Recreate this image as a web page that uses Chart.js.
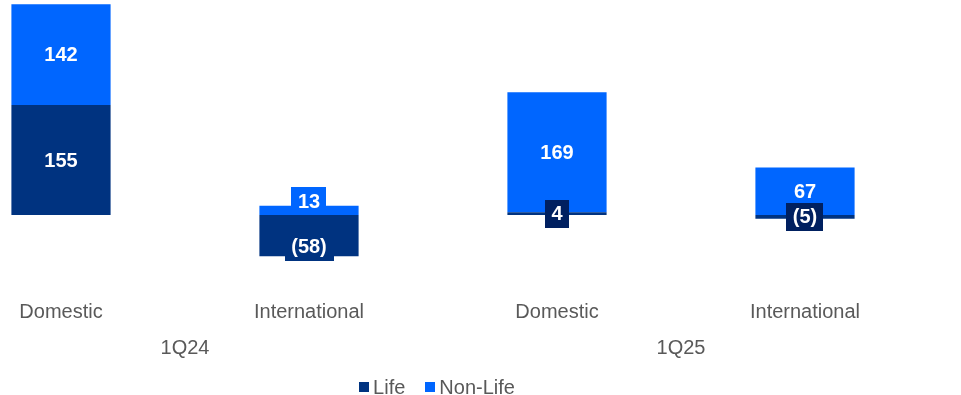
<!DOCTYPE html>
<html>
<head>
<meta charset="utf-8">
<script src="https://cdn.jsdelivr.net/npm/chart.js@4/dist/chart.umd.min.js"></script>
<style>
  html, body { margin: 0; padding: 0; background: #fff; overflow: hidden; width: 961px; height: 395px; }
  #wrap { position: absolute; left: -63px; top: 0; width: 1024px; height: 395px; }
</style>
</head>
<body>
<div id="wrap"><canvas id="c"></canvas></div>
<script>
// Segment values by business line
const categories = ['Domestic', 'International', 'Domestic', 'International'];
const periods = ['1Q24', '1Q25'];
const seriesNames = ['Life', 'Non-Life'];
const lifeValues = [155, -58, 4, -5];
const nonLifeValues = [142, 13, 169, 67];

const FONT = '"Liberation Sans", Arial, sans-serif';
const TEXT_GREY = '#595959';
const LIFE_BLUE = '#003380';
const NONLIFE_BLUE = '#0066FF';

// White value labels on a coloured tag, centred on each stacked segment
const segmentLabels = {
  id: 'segmentLabels',
  afterDatasetsDraw(chart, args, opts) {
    const ctx = chart.ctx;
    ctx.save();
    ctx.font = 'bold 20px ' + FONT;
    ctx.textAlign = 'center';
    ctx.textBaseline = 'middle';
    const order = chart.data.datasets.map((d, i) => i).reverse();
    order.forEach(di => {
      const ds = chart.data.datasets[di];
      const meta = chart.getDatasetMeta(di);
      meta.data.forEach((bar, i) => {
        const v = ds.data[i];
        const text = v < 0 ? '(' + Math.abs(v) + ')' : String(v);
        const segH = Math.abs(bar.base - bar.y);
        const shift = (opts.shift[di] && opts.shift[di][i]) || 0;
        const cy = (bar.y + bar.base) / 2 + shift;
        const w = ctx.measureText(text).width + 13;
        const h = 28;
        ctx.fillStyle = segH < h ? opts.smallTag[di] : ds.backgroundColor;
        ctx.fillRect(Math.round(bar.x - w / 2), Math.round(cy - h / 2), Math.round(w), h);
        ctx.fillStyle = '#ffffff';
        ctx.fillText(text, bar.x, cy + 1);
      });
    });
    ctx.restore();
  }
};

// Legend row with small square markers
const squareLegend = {
  id: 'squareLegend',
  afterDraw(chart, args, opts) {
    const ctx = chart.ctx;
    ctx.save();
    ctx.font = opts.size + 'px ' + FONT;
    ctx.textBaseline = 'middle';
    ctx.textAlign = 'left';
    const items = chart.data.datasets.map(d => ({ label: d.label, color: d.backgroundColor, w: ctx.measureText(d.label).width }));
    const box = 10, gap = 4, spacing = 20;
    let total = 0;
    items.forEach((it, i) => { total += box + gap + it.w + (i ? spacing : 0); });
    let x = opts.centerX - total / 2;
    const y = opts.y;
    items.forEach((it, i) => {
      if (i) x += spacing;
      ctx.fillStyle = it.color;
      ctx.fillRect(Math.round(x), Math.round(y - box / 2), box, box);
      x += box + gap;
      ctx.fillStyle = TEXT_GREY;
      ctx.fillText(it.label, x, y + 1);
      x += it.w;
    });
    ctx.restore();
  }
};

const tickFont = { family: FONT, size: 20 };

new Chart(document.getElementById('c'), {
  type: 'bar',
  data: {
    labels: categories,
    datasets: [
      { label: seriesNames[0], data: lifeValues, backgroundColor: LIFE_BLUE, stack: 's' },
      { label: seriesNames[1], data: nonLifeValues, backgroundColor: NONLIFE_BLUE, stack: 's' }
    ]
  },
  options: {
    responsive: true,
    maintainAspectRatio: false,
    animation: false,
    events: [],
    categoryPercentage: 1.0,
    barPercentage: 0.4,
    layout: { padding: { left: 0, right: 32, top: 0, bottom: 27 } },
    plugins: {
      legend: { display: false },
      tooltip: { enabled: false },
      segmentLabels: {
        shift: { 0: { 1: 11 }, 1: { 1: -9 } },
        smallTag: { 0: '#002060', 1: NONLIFE_BLUE }
      },
      squareLegend: { centerX: 500, y: 387, size: 20 }
    },
    scales: {
      x: {
        stacked: true,
        grid: { display: false, drawTicks: false },
        border: { display: false },
        ticks: { color: TEXT_GREY, font: tickFont, padding: 4, maxRotation: 0, autoSkip: false }
      },
      x2: {
        type: 'category',
        labels: periods,
        position: 'bottom',
        offset: true,
        grid: { display: false, drawTicks: false },
        border: { display: false },
        ticks: { color: TEXT_GREY, font: tickFont, padding: 8, maxRotation: 0, autoSkip: false }
      },
      y: { stacked: true, display: false, min: -114, max: 303 }
    }
  },
  plugins: [segmentLabels, squareLegend]
});
</script>
</body>
</html>
